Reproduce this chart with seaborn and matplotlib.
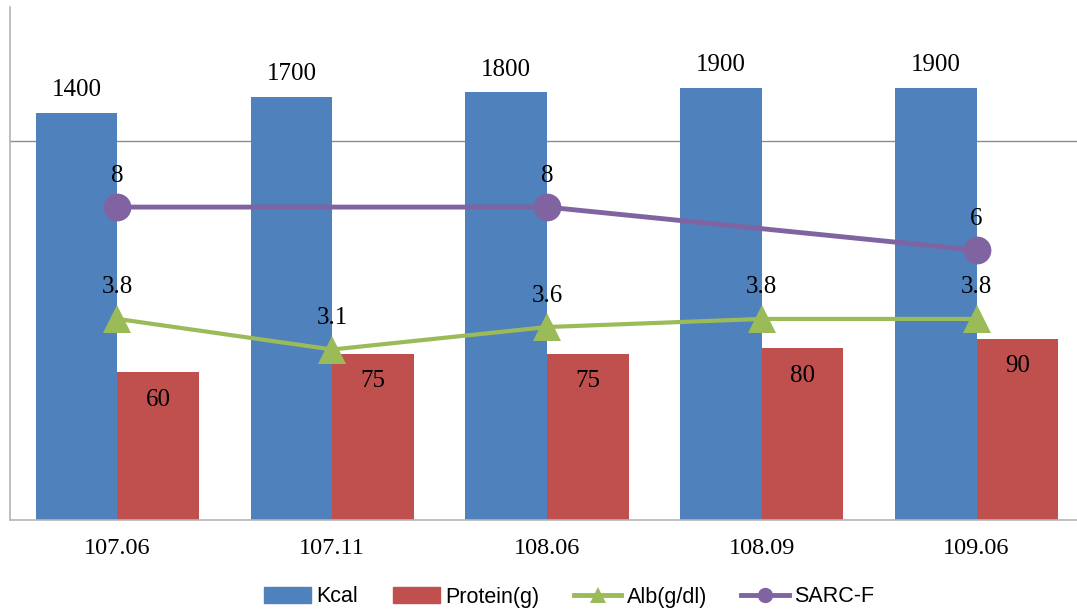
import numpy as np
import pandas as pd
import seaborn as sns
import matplotlib.pyplot as plt
from matplotlib.patches import Patch
from matplotlib.lines import Line2D

dates = ["107.06", "107.11", "108.06", "108.09", "109.06"]
kcal = [1400, 1700, 1800, 1900, 1900]
protein = [60, 75, 75, 80, 90]
alb = [3.8, 3.1, 3.6, 3.8, 3.8]
sarc_dates = ["107.06", "108.06", "109.06"]
sarc = [8, 8, 6]

blue = "#4F81BD"
red = "#C0504D"
green = "#9BBB59"
purple = "#8064A2"
serif = ["Liberation Serif", "DejaVu Serif"]

bars = pd.DataFrame({
    "date": dates * 2,
    "series": ["Kcal"] * len(dates) + ["Protein(g)"] * len(dates),
    "value": kcal + protein,
})

fig = plt.figure(figsize=(10.77, 6.09), dpi=100)
ax = fig.add_axes([10 / 1077, 89.5 / 609, 1074 / 1077, 512.5 / 609])

sns.barplot(data=bars, x="date", y="value", hue="series", order=dates,
            palette=[blue, red], saturation=1, width=0.76, linewidth=0,
            legend=False, errorbar=None, ax=ax)
ax.set_yscale("log")
ax.set_ylim(10, 5070)
ax.set_xlim(-0.5, 4.5)
ax.set_yticks([1000])
ax.yaxis.set_minor_locator(plt.NullLocator())
ax.set_yticklabels([])
ax.yaxis.grid(True, color="#8c8c8c", linewidth=1)
ax.set_axisbelow(True)
ax.set_xlabel("")
ax.set_ylabel("")
ax.tick_params(axis="both", length=0)
ax.tick_params(axis="x", pad=13)
for lab in ax.get_xticklabels():
    lab.set_fontfamily(serif)
    lab.set_fontsize(17.5)
for side in ["top", "right"]:
    ax.spines[side].set_visible(False)
for side in ["left", "bottom"]:
    ax.spines[side].set_color("#b4b4b4")
    ax.spines[side].set_linewidth(1.2)

# bar labels: Kcal above, protein inside
for cont, vals, off in zip(ax.containers, [kcal, protein], [18, -18]):
    for p, v in zip(cont.patches, vals):
        ax.annotate(str(v), (p.get_x() + p.get_width() / 2, p.get_height()),
                    xytext=(0, off), textcoords="offset points",
                    ha="center", va="center_baseline",
                    fontsize=18, family=serif)

ax2 = ax.twinx()
ax2.set_yscale("log")
x_alb = np.arange(len(dates))
x_sarc = [dates.index(d) for d in sarc_dates]
sns.lineplot(x=x_alb, y=alb, ax=ax2, color=green, linewidth=3,
             marker="^", markersize=20, markeredgewidth=0)
sns.lineplot(x=x_sarc, y=sarc, ax=ax2, color=purple, linewidth=3.5,
             marker="o", markersize=20, markeredgewidth=0)
ax2.set_ylim(1, 30.3)
ax2.set_xlim(-0.5, 4.5)
ax2.set_yticks([])
ax2.yaxis.set_minor_locator(plt.NullLocator())
for s in ax2.spines.values():
    s.set_visible(False)

for xs, vals in [(x_alb, alb), (x_sarc, sarc)]:
    for xv, v in zip(xs, vals):
        ax2.annotate(f"{v:g}", (xv, v), xytext=(0, 24.5),
                     textcoords="offset points", ha="center",
                     va="center_baseline", fontsize=18, family=serif)

handles = [
    Patch(color=blue, label="Kcal"),
    Patch(color=red, label="Protein(g)"),
    Line2D([], [], color=green, linewidth=3.5, marker="^", markersize=11,
           markeredgewidth=0, label="Alb(g/dl)"),
    Line2D([], [], color=purple, linewidth=3.5, marker="o", markersize=11,
           markeredgewidth=0, label="SARC-F"),
]
fig.legend(handles=handles, loc="center", bbox_to_anchor=(569 / 1077, 1 - 597 / 609),
           ncol=4, frameon=False, handlelength=2.2, handletextpad=0.25,
           columnspacing=1.6, prop={"family": ["Liberation Sans", "DejaVu Sans"], "size": 15.5})

fig.savefig("out.png", dpi=100)
